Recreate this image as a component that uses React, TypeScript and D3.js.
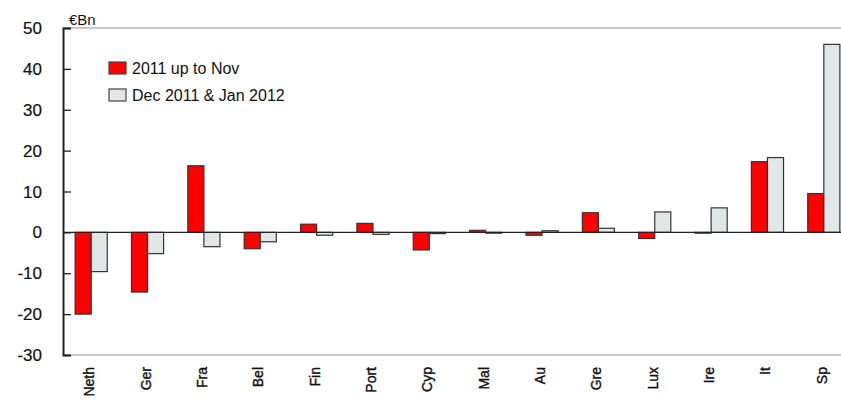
import { useEffect, useRef } from "react";
import * as d3 from "d3";

const countries = ["Neth", "Ger", "Fra", "Bel", "Fin", "Port", "Cyp", "Mal", "Au", "Gre", "Lux", "Ire", "It", "Sp"];
const upToNov = [-20, -14.6, 16.3, -4, 2, 2.2, -4.3, 0.5, -0.7, 4.8, -1.5, -0.2, 17.3, 9.5];
const decJan = [-9.6, -5.2, -3.5, -2.3, -0.7, -0.5, -0.3, -0.2, 0.4, 1, 5, 6, 18.3, 46];
const yTicks = [-30, -20, -10, 0, 10, 20, 30, 40, 50];
const seriesNames = ["2011 up to Nov", "Dec 2011 & Jan 2012"];
const seriesColors = ["#ff0000", "#e1e6e6"];

const W = 841;
const H = 404;
const font = "Liberation Sans, Arial, sans-serif";

const App = () => {
  const svgRef = useRef<SVGSVGElement>(null);

  useEffect(() => {
    const svg = d3.select(svgRef.current);
    svg.selectAll("*").remove();

    const margin = { top: 28, left: 63, bottom: 355 };
    const plotRight = 852;

    const x = d3.scaleBand().domain(countries).range([margin.left, plotRight]).paddingInner(0.43).paddingOuter(0.215);
    const sub = d3.scaleBand().domain(["a", "b"]).range([0, x.bandwidth()]);
    const y = d3.scaleLinear().domain([-30, 50]).range([margin.bottom, margin.top]);

    // frame lines
    svg.append("line").attr("x1", margin.left).attr("x2", W).attr("y1", y(50)).attr("y2", y(50))
      .attr("stroke", "#c8c8c8").attr("stroke-width", 2);
    svg.append("line").attr("x1", margin.left).attr("x2", W).attr("y1", y(-30)).attr("y2", y(-30))
      .attr("stroke", "#c8c8c8").attr("stroke-width", 2);

    // bars
    const groups = svg.selectAll("g.cat").data(countries).enter().append("g")
      .attr("transform", (d) => `translate(${x(d)},0)`);
    [upToNov, decJan].forEach((vals, s) => {
      groups.append("rect")
        .attr("x", sub(s === 0 ? "a" : "b")!)
        .attr("width", sub.bandwidth())
        .attr("y", (d, i) => Math.min(y(vals[i]), y(0)))
        .attr("height", (d, i) => Math.abs(y(vals[i]) - y(0)))
        .attr("fill", seriesColors[s])
        .attr("stroke", "#333")
        .attr("stroke-width", 1.2);
    });

    // zero line
    svg.append("line").attr("x1", margin.left).attr("x2", W).attr("y1", y(0)).attr("y2", y(0))
      .attr("stroke", "#222").attr("stroke-width", 1.3);

    // y axis
    const yAxis = svg.append("g").attr("transform", `translate(${margin.left},0)`)
      .call(d3.axisRight(y).tickValues(yTicks).tickSize(8).tickFormat(() => ""));
    yAxis.select(".domain").attr("stroke", "#222").attr("stroke-width", 2);
    yAxis.selectAll(".tick line").attr("stroke", "#222").attr("stroke-width", 1.3);

    svg.selectAll("text.ytick").data(yTicks).enter().append("text")
      .attr("x", 42).attr("y", (d) => y(d)).attr("dy", "0.36em")
      .attr("text-anchor", "end")
      .style("font-family", font).style("font-size", "17px")
      .attr("fill", "#111").attr("stroke", "#111").attr("stroke-width", 0.2)
      .text((d) => d);

    svg.append("text").attr("x", 69).attr("y", 25)
      .style("font-family", font).style("font-size", "15px")
      .attr("fill", "#111").text("€Bn");

    // x labels
    svg.selectAll("text.xlab").data(countries).enter().append("text")
      .attr("transform", (d) => `translate(${x(d)! + x.bandwidth() / 2 + 3},367) rotate(-90)`)
      .attr("text-anchor", "end")
      .style("font-family", font).style("font-size", "14px")
      .attr("fill", "#111").attr("stroke", "#111").attr("stroke-width", 0.4)
      .text((d) => d);

    // legend
    const legend = svg.append("g").attr("transform", "translate(109,62)");
    seriesNames.forEach((name, i) => {
      legend.append("rect").attr("x", 0).attr("y", i * 27).attr("width", 17).attr("height", 12)
        .attr("fill", seriesColors[i]).attr("stroke", "#444").attr("stroke-width", 1.2);
      legend.append("text").attr("x", 23).attr("y", i * 27 + 12)
        .style("font-family", font).style("font-size", "16px")
        .attr("fill", "#111").text(name);
    });
  }, []);

  return (
    <svg ref={svgRef} width={W} height={H} style={{ display: "block", position: "absolute", left: 0, top: 0 }} />
  );
};

export default App;
